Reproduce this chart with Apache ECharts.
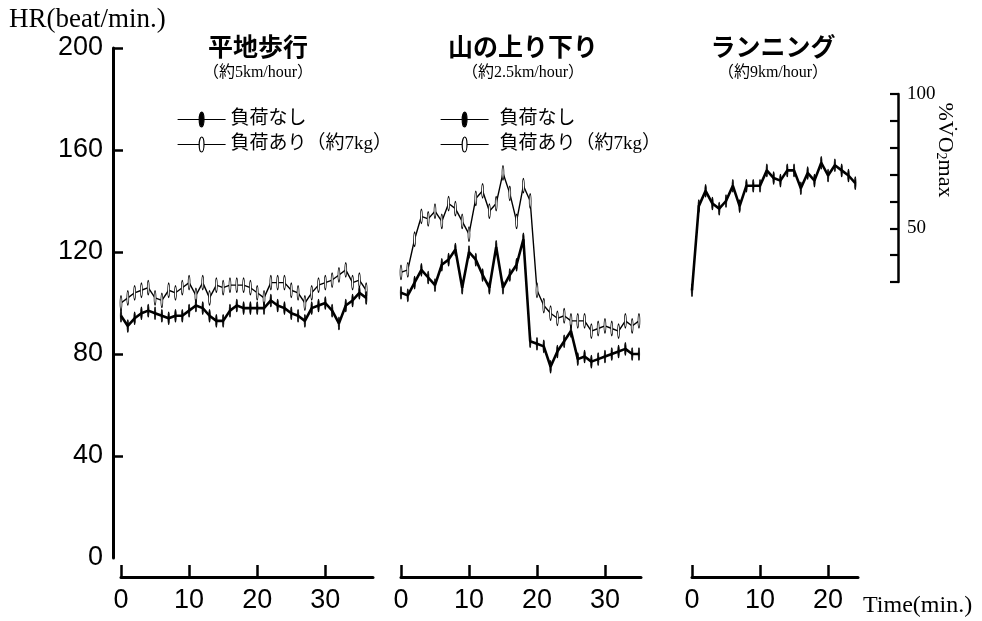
<!DOCTYPE html>
<html>
<head>
<meta charset="utf-8">
<script src="https://cdn.jsdelivr.net/npm/echarts@6/dist/echarts.min.js"></script>
<style>
  html, body { margin: 0; padding: 0; background: #fff; }
  #chart { width: 982px; height: 621px; }
</style>
</head>
<body>
<div id="chart"></div>
<script>
// Heart rate (beat/min.), one reading per minute
const walkNoLoad = [95, 91, 94, 96, 97, 96, 95, 94, 95, 95, 97, 99, 98, 95, 93, 93, 97, 99, 98, 98,
                    98, 98, 101, 99, 98, 96, 95, 93, 98, 99, 100, 97, 92, 99, 101, 104, 102];
const walkLoad   = [100, 102, 104, 105, 106, 102, 101, 105, 104, 106, 108, 103, 108, 102, 107, 106, 107, 107, 107, 106,
                    104, 102, 108, 108, 108, 105, 104, 100, 104, 107, 108, 109, 111, 113, 108, 109, 105];
const hillNoLoad = [104, 103, 108, 113, 110, 107, 115, 117, 121, 106, 120, 117, 111, 106, 122, 106, 111, 115, 125,
                    85, 84, 83, 75, 81, 85, 89, 78, 79, 77, 78, 79, 80, 81, 82, 80, 80];
const hillLoad   = [112, 113, 125, 134, 133, 136, 132, 139, 137, 132, 127, 141, 144, 136, 139, 151, 143, 132, 146, 140,
                    105, 99, 96, 94, 95, 93, 93, 93, 89, 90, 91, 90, 89, 93, 91, 93];
const runHR      = [105, 138, 144, 139, 137, 140, 146, 138, 146, 146, 146, 152, 149, 148, 152, 152, 145, 151, 148, 155,
                    150, 154, 152, 150, 147];

const panelTitles = ['平地歩行', '山の上り下り', 'ランニング'];
const panelSpeeds = ['（約5km/hour）', '（約2.5km/hour）', '（約9km/hour）'];
const loadNames   = ['負荷なし', '負荷あり（約7kg）'];
const panelMinutes = [37, 35.3, 24.4];          // length of each time axis (min.)
const timeTickValues = [0, 10, 20, 30];
const hrTickValues = [40, 80, 120, 160, 200];
const vo2LabelValues = [50, 100];

// narrow upright ellipse used as the point marker
const ellipse = 'path://M5 0A5 14 0 1 1 5 28A5 14 0 1 1 5 0Z';
// legend key: short line with the marker in its middle
const legendKey = 'path://M0 8L22.5 8M27.5 8L50 8M25 1.5A2.5 6.5 0 1 1 25 14.5A2.5 6.5 0 1 1 25 1.5Z';
const numFont = "'Liberation Sans', Arial, sans-serif";
const serifJa = "'Liberation Serif', 'Noto Sans CJK JP', serif";

const toPoints = arr => arr.map((v, minute) => [minute, v]);

function loadedSeries(name, data, axis) {
  return {
    type: 'line', name, data: toPoints(data),
    xAxisIndex: axis, yAxisIndex: axis,
    symbol: ellipse, symbolSize: [5.5, 14], symbolKeepAspect: true, showAllSymbol: true,
    lineStyle: { color: '#000', width: 1.4 },
    itemStyle: { color: '#fff', borderColor: '#000', borderWidth: 1.1 },
    emphasis: { disabled: true }, z: 2
  };
}
function unloadedSeries(name, data, axis) {
  return {
    type: 'line', name, data: toPoints(data),
    xAxisIndex: axis, yAxisIndex: axis,
    symbol: ellipse, symbolSize: [4.5, 12], symbolKeepAspect: true, showAllSymbol: true,
    lineStyle: { color: '#000', width: 2.6 },
    itemStyle: { color: '#000', borderColor: '#000', borderWidth: 1 },
    emphasis: { disabled: true }, z: 3
  };
}

const grids = [
  { left: 121, top: 48, width: 252, height: 510 },
  { left: 401, top: 48, width: 240, height: 510 },
  { left: 692, top: 48, width: 166, height: 510 },
  { left: 880, top: 94, width: 18, height: 188 }
];

const timeAxes = panelMinutes.map((max, i) => ({
  type: 'value', gridIndex: i, min: 0, max: max, interval: 10, offset: 19,
  axisLine: { show: true, onZero: false, lineStyle: { color: '#000', width: 3 } },
  axisTick: { show: true, inside: true, length: 12, customValues: timeTickValues,
              lineStyle: { color: '#000', width: 2.5 } },
  axisLabel: { color: '#000', fontSize: 27, fontFamily: numFont, margin: 10, customValues: timeTickValues },
  splitLine: { show: false },
  name: i === 2 ? 'Time(min.)' : '',
  nameLocation: 'end', nameGap: 5,
  nameTextStyle: { color: '#000', fontSize: 24, fontFamily: "'Liberation Serif', serif",
                   align: 'left', verticalAlign: 'top', padding: [17, 0, 0, 0] }
}));
timeAxes.push({ type: 'value', gridIndex: 3, show: false });

const hrAxes = [
  {
    type: 'value', gridIndex: 0, min: 0, max: 200, interval: 40, offset: 8,
    axisLine: { show: true, onZero: false, lineStyle: { color: '#000', width: 3 } },
    axisTick: { show: true, inside: true, length: 10, customValues: hrTickValues,
                lineStyle: { color: '#000', width: 2.5 } },
    axisLabel: { color: '#000', fontSize: 27, fontFamily: numFont, margin: 10 },
    splitLine: { show: false }
  },
  { type: 'value', gridIndex: 1, min: 0, max: 200, show: false },
  { type: 'value', gridIndex: 2, min: 0, max: 200, show: false },
  {
    type: 'value', gridIndex: 3, position: 'right', min: 30, max: 100, interval: 10,
    axisLine: { show: true, onZero: false, lineStyle: { color: '#000', width: 2.5 } },
    axisTick: { show: true, inside: true, length: 8, lineStyle: { color: '#000', width: 2.2 } },
    axisLabel: { color: '#000', fontSize: 19, fontFamily: "'Liberation Serif', serif", margin: 9,
                 customValues: vo2LabelValues },
    splitLine: { show: false }
  }
];

const titleCenters = [253, 518, 768];
const titles = panelTitles.map((t, i) => ({
  text: t, subtext: panelSpeeds[i], left: titleCenters[i], top: 29, textAlign: 'center', itemGap: 6,
  textStyle: { color: '#000', fontSize: 25, fontWeight: 'bold', fontFamily: "'Noto Sans CJK JP', sans-serif" },
  subtextStyle: { color: '#000', fontSize: 16, fontFamily: serifJa }
}));

function legendAt(left, textGap) {
  return {
    orient: 'vertical', left: left, top: 105, itemWidth: 48, itemHeight: 15, itemGap: 6,
    selectedMode: false, symbolKeepAspect: false,
    data: loadNames.map(n => ({ name: n, icon: legendKey })),
    itemStyle: { borderWidth: 1.2, borderColor: '#000' },
    textStyle: { color: '#000', fontSize: 19, fontFamily: serifJa, padding: [0, 0, 0, textGap] }
  };
}

const option = {
  animation: false,
  backgroundColor: '#fff',
  title: titles,
  legend: [legendAt(172, 0), legendAt(435, 6)],
  grid: grids,
  xAxis: timeAxes,
  yAxis: hrAxes,
  series: [
    loadedSeries(loadNames[1], walkLoad, 0),
    unloadedSeries(loadNames[0], walkNoLoad, 0),
    loadedSeries(loadNames[1], hillLoad, 1),
    unloadedSeries(loadNames[0], hillNoLoad, 1),
    unloadedSeries('ランニング', runHR, 2)
  ],
  graphic: [
    {
      type: 'text', left: 9, top: 6,
      style: { text: 'HR(beat/min.)', fill: '#000', fontSize: 27, fontFamily: "'Liberation Serif', serif" }
    },
    {
      type: 'text', x: 945, y: 150, rotation: -Math.PI / 2,
      style: {
        text: '{a|%V\u0307O}{s|2}{a|max}',
        align: 'center', verticalAlign: 'middle', fill: '#000',
        rich: {
          a: { fontSize: 22, fontFamily: "'Liberation Serif', serif", fill: '#000' },
          s: { fontSize: 14, fontFamily: "'Liberation Serif', serif", fill: '#000',
               verticalAlign: 'bottom', padding: [8, 0, 0, 0] }
        }
      }
    }
  ]
};

const chart = echarts.init(document.getElementById('chart'), null, { renderer: 'canvas' });
chart.setOption(option);
</script>
</body>
</html>
